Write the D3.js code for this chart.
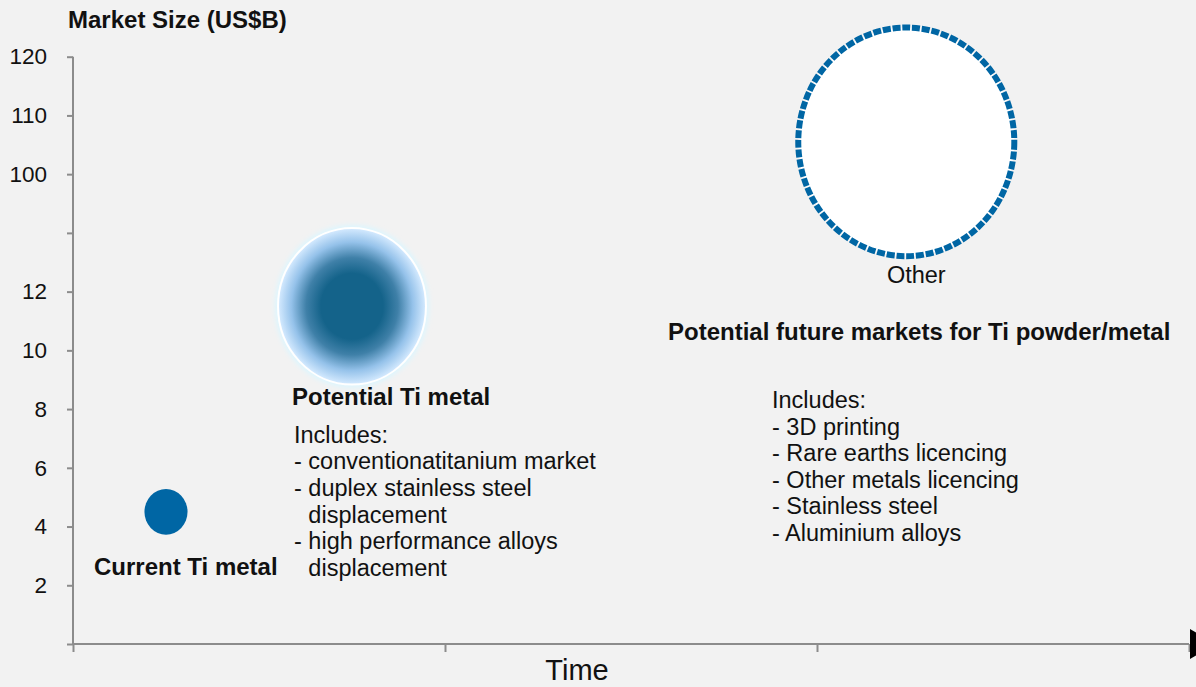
<!DOCTYPE html>
<html>
<head>
<meta charset="utf-8">
<script src="https://cdn.jsdelivr.net/npm/d3@7"></script>
<style>
  html, body { margin: 0; padding: 0; background: #f2f2f2; }
  svg { display: block; font-family: "Liberation Sans", Arial, sans-serif; }
</style>
</head>
<body>
<svg id="chart" width="1196" height="687"></svg>
<script>
// ---- data ----
const bubbleNames = ["Current Ti metal", "Potential Ti metal", "Other"];
const bubbleTime = [0.25, 0.75, 2.24];        // position on the Time axis
const bubbleMarket = [4.5, 11.5, 105.5];      // Market Size (US$B)
const bubbleArea = [4.5, 53, 113];            // bubble size value
const yTickValues = [0, 2, 4, 6, 8, 10, 12, 56, 100, 110, 120];
const yTickLabels = ["", "2", "4", "6", "8", "10", "12", "", "100", "110", "120"];
const xTickValues = [0, 1, 2, 3];
const potentialLines = ["Includes:", "- conventionatitanium market", "- duplex stainless steel", "displacement", "- high performance alloys", "displacement"];
const potentialIndent = [false, false, false, true, false, true];
const futureLines = ["Includes:", "- 3D printing", "- Rare earths licencing", "- Other metals licencing", "- Stainless steel", "- Aluminium alloys"];

// ---- layout ----
const W = 1196, H = 687;
const mLeft = 73, mRight = 1189, mTop = 56.7, mBottom = 644;
const step = (mBottom - mTop) / 10;
const axisColor = "#8c8c8c";
const blue = "#0066a4";

const svg = d3.select("#chart");
svg.append("rect").attr("width", W).attr("height", H).attr("fill", "#f2f2f2");

const x = d3.scaleLinear().domain([0, 3]).range([mLeft, mRight]);
const y = d3.scaleLinear().domain([0, 12, 100, 120])
  .range([mBottom, mBottom - 6 * step, mBottom - 8 * step, mTop]);
const r = d3.scaleSqrt().domain([0, 120]).range([0, 117.8]);
const squash = 0.945;

const defs = svg.append("defs");
const grad = defs.append("radialGradient").attr("id", "potGrad");
[[0, "#14638a"], [0.42, "#14638a"], [0.62, "#3f80a8"], [0.82, "#95c2ea"], [1, "#d6ebff"]]
  .forEach(([o, c]) => grad.append("stop").attr("offset", o).attr("stop-color", c));
const blur = defs.append("filter").attr("id", "glow").attr("x", "-20%").attr("y", "-20%").attr("width", "140%").attr("height", "140%");
blur.append("feGaussianBlur").attr("stdDeviation", 2.5);

// ---- axes ----
const yAxis = d3.axisLeft(y).tickValues(yTickValues)
  .tickFormat((d, i) => yTickLabels[i]).tickSize(6).tickPadding(20);
const gy = svg.append("g").attr("transform", `translate(${mLeft},0)`).call(yAxis);
gy.select(".domain").attr("stroke", axisColor).attr("stroke-width", 2).attr("d", `M0,${mTop}V${mBottom}`);
gy.selectAll(".tick line").attr("stroke", axisColor).attr("stroke-width", 2);
gy.selectAll(".tick text").attr("fill", "#111").style("font-size", "22.5px")
  .style("font-family", "'Liberation Sans', Arial, sans-serif");

const xAxis = d3.axisBottom(x).tickValues(xTickValues).tickFormat("").tickSize(8);
const gx = svg.append("g").attr("transform", `translate(0,${mBottom})`).call(xAxis);
gx.select(".domain").attr("stroke", axisColor).attr("stroke-width", 2).attr("d", `M${mLeft},0H${mRight}`);
gx.selectAll(".tick line").attr("stroke", axisColor).attr("stroke-width", 2);

// arrow head at end of Time axis
svg.append("path")
  .attr("d", `M${mRight + 1},${mBottom - 15}L${mRight + 1},${mBottom + 15}L${mRight + 26},${mBottom}Z`)
  .attr("fill", "#000");

svg.append("text").attr("x", 68).attr("y", 28)
  .style("font-size", "24px").style("font-weight", "bold").attr("fill", "#111")
  .text("Market Size (US$B)");

svg.append("text").attr("x", 577).attr("y", 680).attr("text-anchor", "middle")
  .style("font-size", "29px").attr("fill", "#111").text("Time");

// ---- bubbles ----
const bubbles = bubbleNames.map((n, i) => ({ name: n, t: bubbleTime[i], m: bubbleMarket[i], a: bubbleArea[i] }));

// current
const cur = bubbles[0];
svg.append("ellipse").attr("cx", x(cur.t)).attr("cy", y(cur.m))
  .attr("rx", r(cur.a) * squash).attr("ry", r(cur.a)).attr("fill", blue);

// potential
const pot = bubbles[1];
svg.append("ellipse").attr("cx", x(pot.t)).attr("cy", y(pot.m))
  .attr("rx", r(pot.a) * squash + 3).attr("ry", r(pot.a) + 3)
  .attr("fill", "#dcf6ff").attr("filter", "url(#glow)");
svg.append("ellipse").attr("cx", x(pot.t)).attr("cy", y(pot.m))
  .attr("rx", r(pot.a) * squash).attr("ry", r(pot.a))
  .attr("fill", "url(#potGrad)").attr("stroke", "#ffffff").attr("stroke-width", 2);

// other
const oth = bubbles[2];
svg.append("ellipse").attr("cx", x(oth.t)).attr("cy", y(oth.m))
  .attr("rx", r(oth.a) * squash).attr("ry", r(oth.a))
  .attr("fill", "#ffffff").attr("stroke", blue).attr("stroke-width", 6)
  .attr("stroke-dasharray", "8 1.8");

// ---- labels ----
svg.append("text").attr("x", 94).attr("y", 575)
  .style("font-size", "24px").style("font-weight", "bold").attr("fill", "#111").text(cur.name);

svg.append("text").attr("x", 292).attr("y", 405)
  .style("font-size", "24px").style("font-weight", "bold").attr("fill", "#111").text(pot.name);

svg.append("text").attr("x", x(oth.t) + 10).attr("y", 283).attr("text-anchor", "middle")
  .style("font-size", "23.5px").attr("fill", "#111").text(oth.name);

svg.append("text").attr("x", 668).attr("y", 340)
  .style("font-size", "24px").style("font-weight", "bold").attr("fill", "#111")
  .text("Potential future markets for Ti powder/metal");

// measure indent "- "
const tmp = svg.append("text").style("font-size", "23.5px").text("- d");
const tmp2 = svg.append("text").style("font-size", "23.5px").text("d");
const indent = tmp.node().getComputedTextLength() - tmp2.node().getComputedTextLength();
tmp.remove(); tmp2.remove();

const lh = 26.6;
svg.append("g").selectAll("text").data(potentialLines).join("text")
  .attr("x", (d, i) => 294 + (potentialIndent[i] ? indent : 0))
  .attr("y", (d, i) => 442.7 + i * lh)
  .style("font-size", "23.5px").attr("fill", "#111").text(d => d);

svg.append("g").selectAll("text").data(futureLines).join("text")
  .attr("x", 772)
  .attr("y", (d, i) => 408 + i * lh)
  .style("font-size", "23.5px").attr("fill", "#111").text(d => d);
</script>
</body>
</html>
